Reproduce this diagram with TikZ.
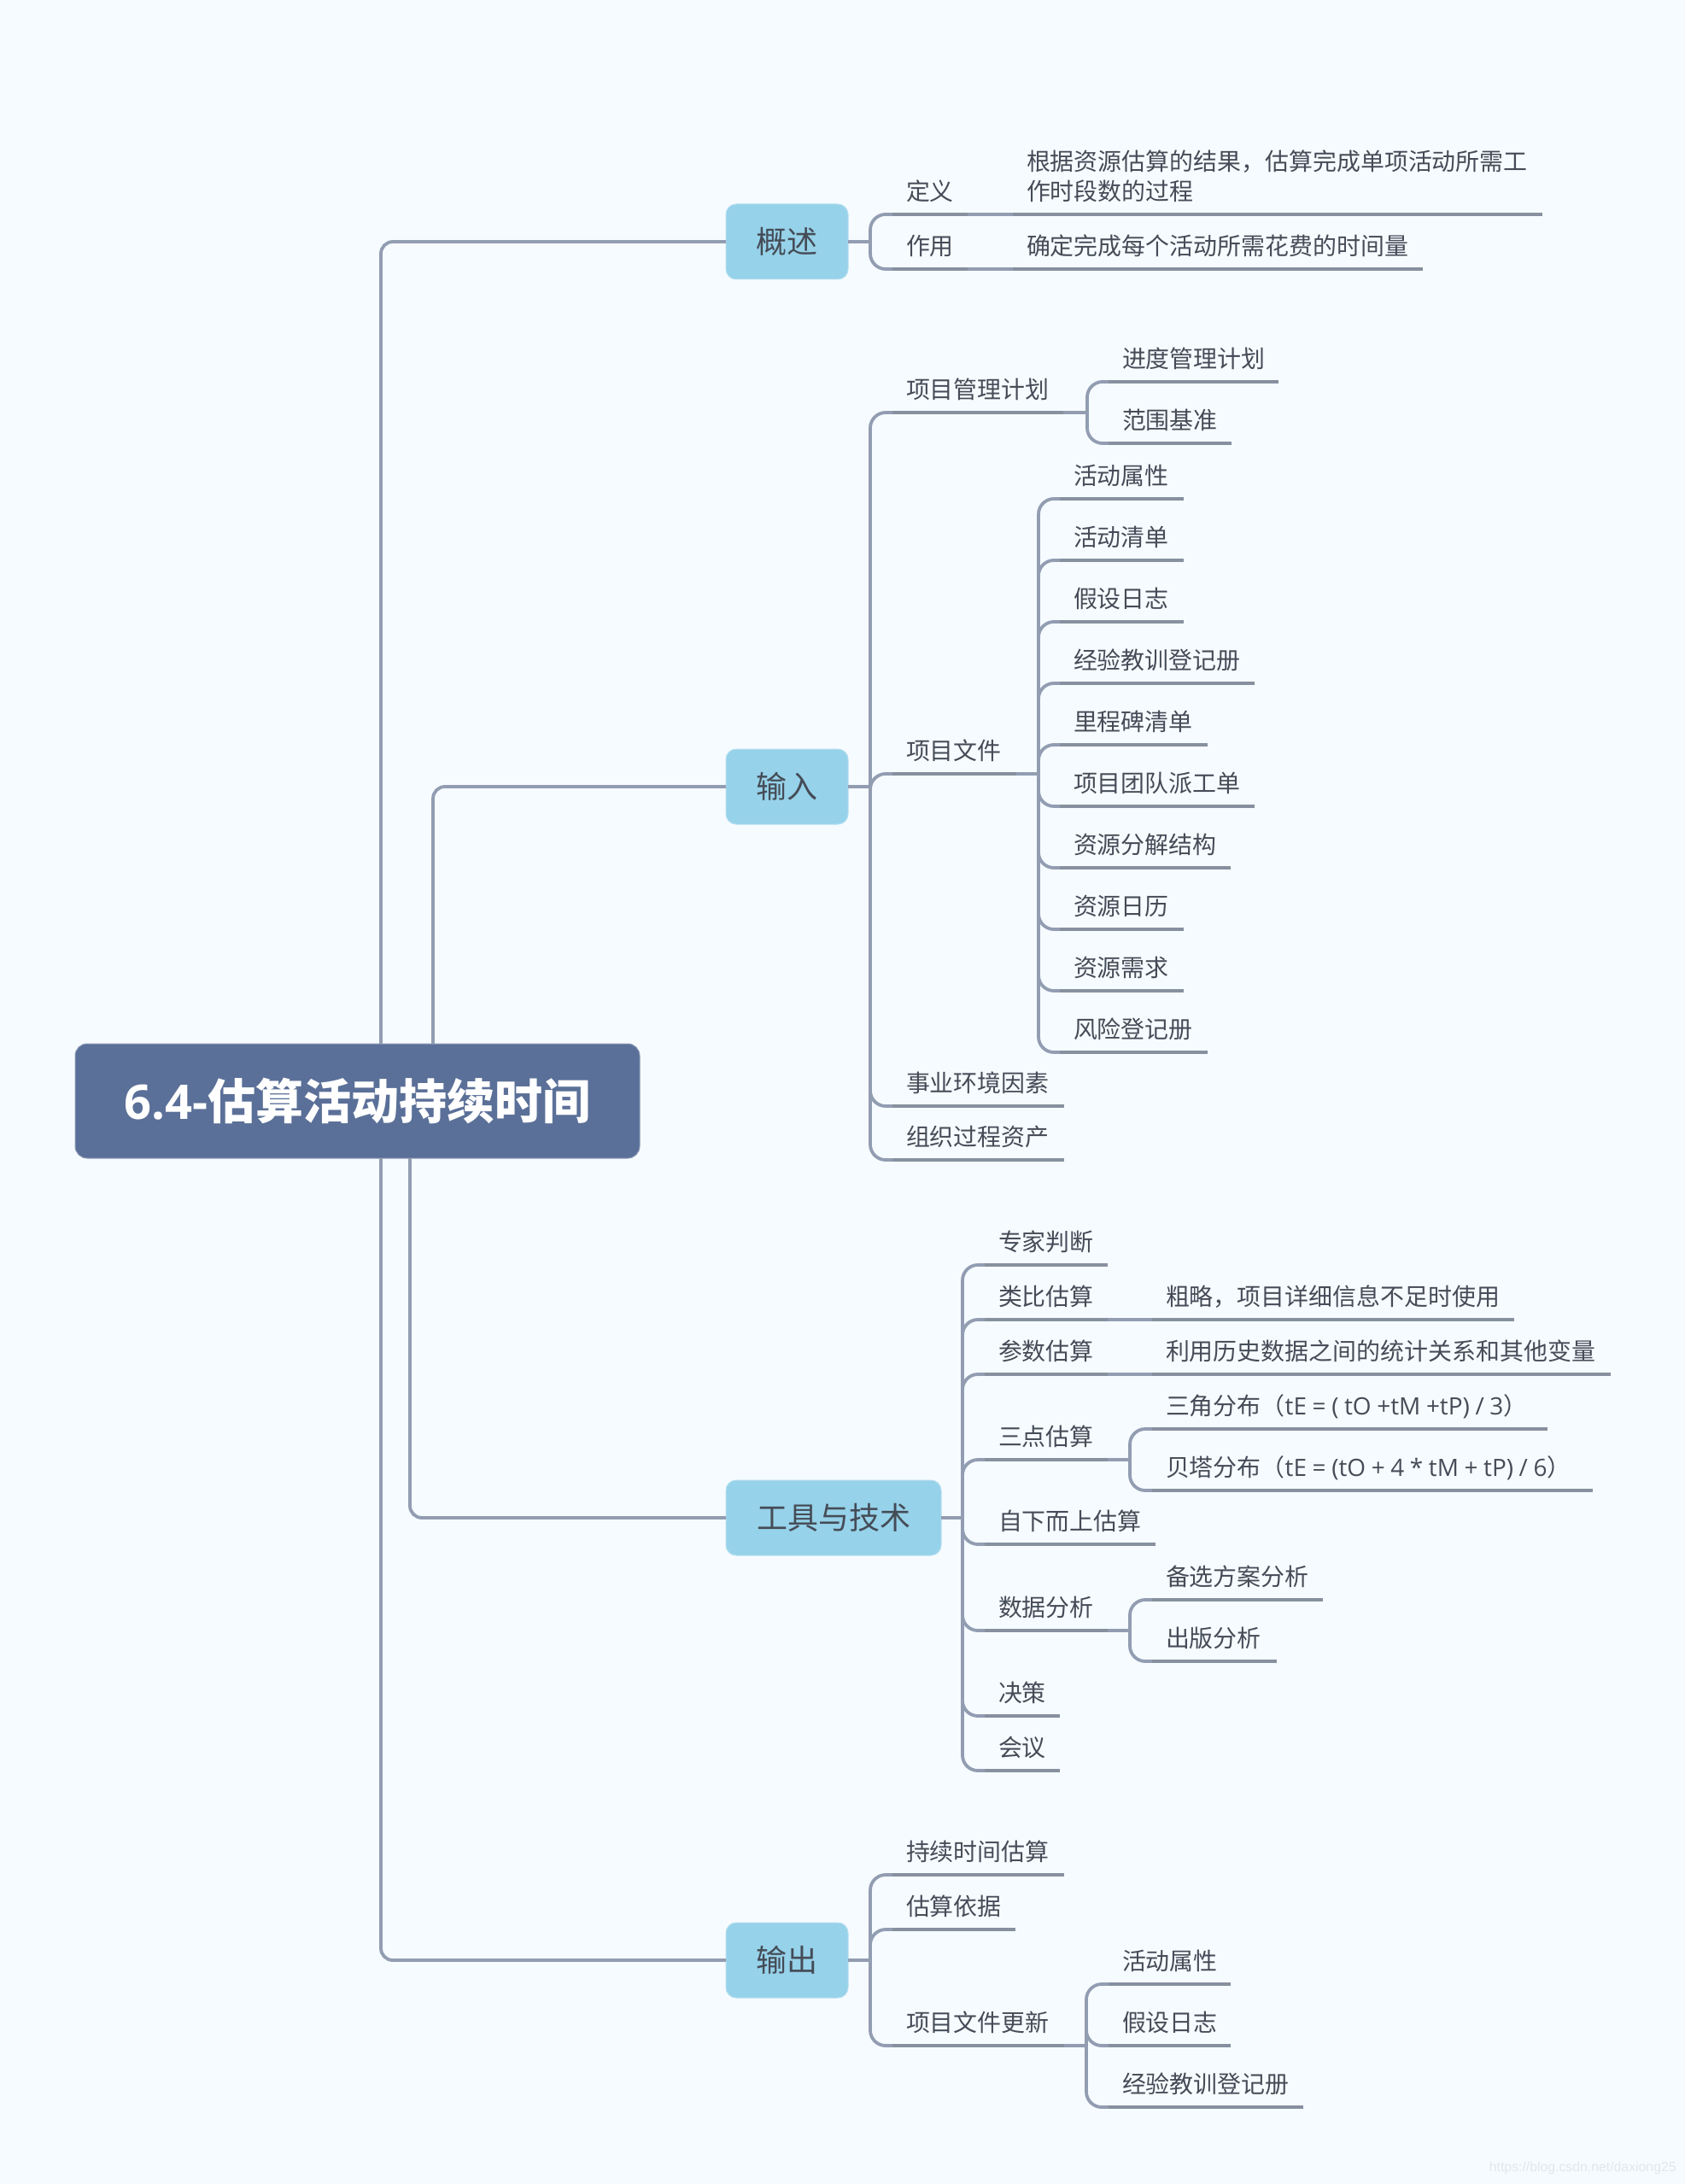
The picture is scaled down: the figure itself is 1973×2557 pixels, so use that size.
\documentclass[tikz,border=0pt]{standalone}
\usepackage{fontspec}
\setmainfont{Open Sans}
\newfontfamily\cjk{Noto Sans CJK SC}
\newfontfamily\latf{Open Sans}
\newfontfamily\wmfont{Liberation Sans}
\definecolor{bgc}{HTML}{F6FBFF}
\definecolor{rootc}{HTML}{5B7098}
\definecolor{boxc}{HTML}{96D2E9}
\definecolor{linkc}{HTML}{929DB2}
\definecolor{underc}{HTML}{87909F}
\definecolor{txtc}{HTML}{454C57}
\tikzset{
  leaf/.style={anchor=south west,inner xsep=8pt,inner ysep=3.2pt,outer sep=0pt,align=left,text=txtc,
    font=\fontsize{13.97}{17.5}\selectfont\cjk},
  under/.style={draw=underc,line width=2.4pt},
  link/.style={draw=linkc,line width=1.9pt,rounded corners=9pt},
  rootlink/.style={draw=linkc,line width=1.9pt,rounded corners=7pt},
  branch/.style={fill=boxc,draw=boxc!70!white,line width=.5pt,rounded corners=6pt,text=txtc,outer sep=0pt,inner sep=0pt,
    minimum height=44pt,font=\fontsize{18}{22}\selectfont\cjk},
  rootbox/.style={fill=rootc,draw=rootc!70!white,line width=.5pt,rounded corners=7pt,text=white,outer sep=0pt,inner sep=0pt,
    minimum width=330.5pt,minimum height=67pt},
}
\newcommand{\leafnode}[5]{%
  \pgfmathsetmacro{\leafw}{(#4-#2)*0.5-16}%
  \node[leaf,text width=\leafw pt] (#1) at (#2,#3) {\strut #5};
  \draw[under] (#1.south west) -- (#1.south east);}
\begin{document}
\begin{tikzpicture}[x=0.5pt,y=-0.5pt]
\fill[bgc] (0,0) rectangle (1973,2557);
\useasboundingbox (0,0) rectangle (1973,2557);

% root and branches
\node[rootbox] (root) at (418.5,1289) {\fontsize{28}{32}\selectfont\bfseries 6.4-{\cjk\bfseries 估算活动持续时间}};
\node[branch,minimum width=71.5pt] (gs) at (921.5,283) {概述};
\node[branch,minimum width=71.5pt] (sr) at (921.5,921) {输入};
\node[branch,minimum width=126pt] (gj) at (976,1777) {工具与技术};
\node[branch,minimum width=71.5pt] (sc) at (921.5,2295) {输出};

\coordinate (r1) at (446,1222);
\coordinate (r2) at (507,1222);
\coordinate (r3) at (480,1356);
\coordinate (r4) at (446,1356);
\draw[rootlink] (r1) |- (gs.west);
\draw[rootlink] (r2) |- (sr.west);
\draw[rootlink] (r3) |- (gj.west);
\draw[rootlink] (r4) |- (sc.west);

% overview
\coordinate (bgs) at (1019,283);
\leafnode{dy}{1045}{251}{1133}{定义}
\leafnode{zy}{1045}{315}{1133}{作用}
\leafnode{dya}{1186}{251}{1806}{根据资源估算的结果，估算完成单项活动所需工\\\strut 作时段数的过程}
\leafnode{zya}{1186}{315}{1666}{确定完成每个活动所需花费的时间量}
\draw[link] (gs.east) -- (bgs);
\draw[link] (bgs) |- (dy.south west);
\draw[link] (bgs) |- (zy.south west);
\draw[link] (dy.south east) -- (dya.south west);
\draw[link] (zy.south east) -- (zya.south west);

% input
\coordinate (bsr) at (1019,921);
\leafnode{xmgl}{1045}{483}{1245}{项目管理计划}
\leafnode{xmwj}{1045}{906}{1190}{项目文件}
\leafnode{syhj}{1045}{1295}{1246}{事业环境因素}
\leafnode{zzgc}{1045}{1358}{1246}{组织过程资产}
\draw[link] (sr.east) -- (bsr);
\draw[link] (bsr) |- (xmgl.south west);
\draw[link] (bsr) |- (xmwj.south west);
\draw[link] (bsr) |- (syhj.south west);
\draw[link] (bsr) |- (zzgc.south west);

\coordinate (bgl) at (1273,483);
\leafnode{jd}{1298}{447}{1497}{进度管理计划}
\leafnode{fw}{1298}{519}{1442}{范围基准}
\draw[link] (xmgl.south east) -- (bgl);
\draw[link] (bgl) |- (jd.south west);
\draw[link] (bgl) |- (fw.south west);

\coordinate (bwj) at (1216,906);
\leafnode{w1}{1241}{584}{1386}{活动属性}
\leafnode{w2}{1241}{656}{1386}{活动清单}
\leafnode{w3}{1241}{728}{1386}{假设日志}
\leafnode{w4}{1241}{800}{1469}{经验教训登记册}
\leafnode{w5}{1241}{872}{1414}{里程碑清单}
\leafnode{w6}{1241}{944}{1469}{项目团队派工单}
\leafnode{w7}{1241}{1016}{1441}{资源分解结构}
\leafnode{w8}{1241}{1088}{1386}{资源日历}
\leafnode{w9}{1241}{1160}{1386}{资源需求}
\leafnode{w10}{1241}{1232}{1414}{风险登记册}
\draw[link] (xmwj.south east) -- (bwj);
\foreach \n in {w1,w2,w3,w4,w5,w6,w7,w8,w9,w10} \draw[link] (bwj) |- (\n.south west);

% tools
\coordinate (bgj) at (1127,1777);
\leafnode{t1}{1153}{1481}{1297}{专家判断}
\leafnode{t2}{1153}{1545}{1297}{类比估算}
\leafnode{t3}{1153}{1609}{1297}{参数估算}
\leafnode{t4}{1153}{1709}{1297}{三点估算}
\leafnode{t5}{1153}{1808}{1353}{自下而上估算}
\leafnode{t6}{1153}{1909}{1297}{数据分析}
\leafnode{t7}{1153}{2009}{1241}{决策}
\leafnode{t8}{1153}{2073}{1241}{会议}
\draw[link] (gj.east) -- (bgj);
\foreach \n in {t1,t2,t3,t4,t5,t6,t7,t8} \draw[link] (bgj) |- (\n.south west);

\leafnode{t2a}{1349}{1545}{1773}{粗略，项目详细信息不足时使用}
\leafnode{t3a}{1349}{1609}{1886}{利用历史数据之间的统计关系和其他变量}
\draw[link] (t2.south east) -- (t2a.south west);
\draw[link] (t3.south east) -- (t3a.south west);

\coordinate (bsd) at (1323,1709);
\leafnode{t4a}{1349}{1673}{1812}{\mbox{三角分布（{\latf\spaceskip=.236em tE = ( tO +tM +tP) / 3}）}}
\leafnode{t4b}{1349}{1745}{1865}{\mbox{贝塔分布（{\latf\spaceskip=.236em tE = (tO + 4 * tM + tP) / 6}）}}
\draw[link] (t4.south east) -- (bsd);
\draw[link] (bsd) |- (t4a.south west);
\draw[link] (bsd) |- (t4b.south west);

\coordinate (bsj) at (1323,1909);
\leafnode{t6a}{1349}{1873}{1549}{备选方案分析}
\leafnode{t6b}{1349}{1945}{1495}{出版分析}
\draw[link] (t6.south east) -- (bsj);
\draw[link] (bsj) |- (t6a.south west);
\draw[link] (bsj) |- (t6b.south west);

% output
\coordinate (bsc) at (1019,2295);
\leafnode{o1}{1045}{2195}{1246}{持续时间估算}
\leafnode{o2}{1045}{2259}{1189}{估算依据}
\leafnode{o3}{1045}{2395}{1246}{项目文件更新}
\draw[link] (sc.east) -- (bsc);
\foreach \n in {o1,o2,o3} \draw[link] (bsc) |- (\n.south west);

\coordinate (bgx) at (1272,2395);
\leafnode{o3a}{1298}{2323}{1441}{活动属性}
\leafnode{o3b}{1298}{2395}{1441}{假设日志}
\leafnode{o3c}{1298}{2467}{1526}{经验教训登记册}
\draw[link] (o3.south east) -- (bgx);
\foreach \n in {o3a,o3b,o3c} \draw[link] (bgx) |- (\n.south west);

% watermark
\node[anchor=east,inner sep=0pt,text=black!8!bgc,font=\fontsize{7.9}{10}\selectfont\wmfont] (wm) at (1963,2538) {https://blog.csdn.net/daxiong25};
\end{tikzpicture}
\end{document}
